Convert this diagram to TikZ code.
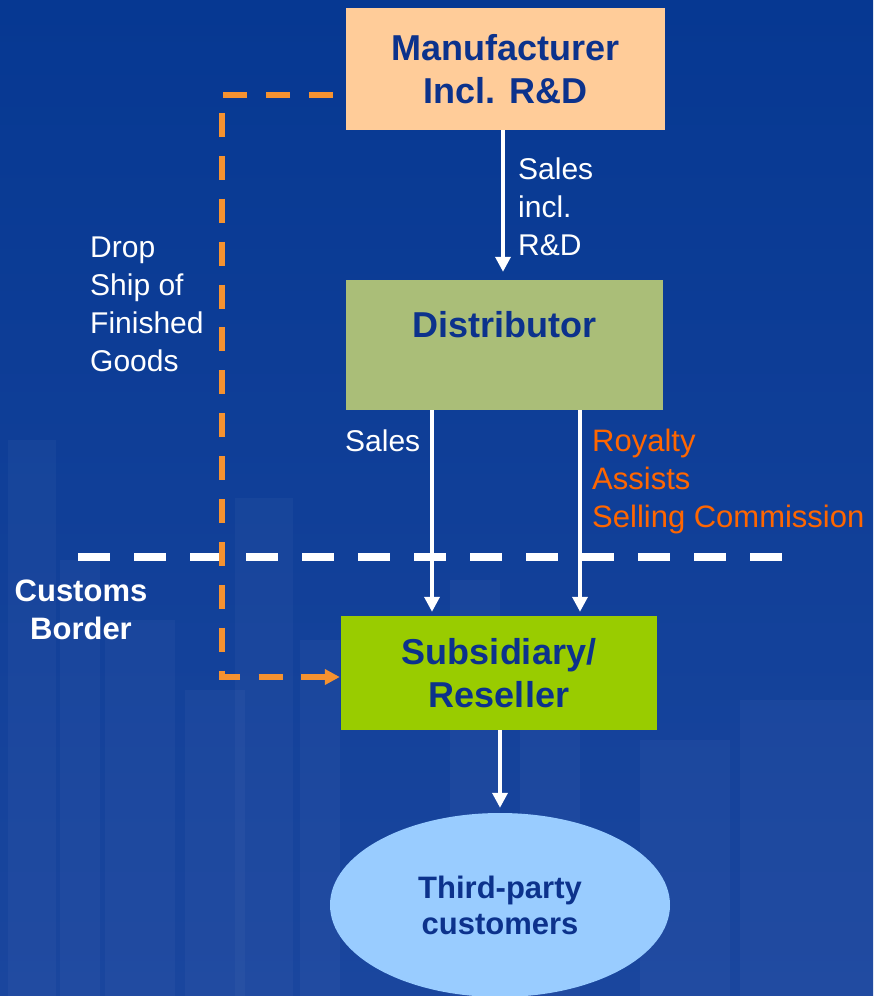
\documentclass[tikz,border=0pt]{standalone}
\usepackage{fontspec}
\setmainfont{Liberation Sans}
\usetikzlibrary{arrows.meta,shapes.geometric}
\definecolor{bgtop}{RGB}{6,56,146}
\definecolor{bgmid}{RGB}{22,76,166}
\definecolor{bgbot}{RGB}{26,70,158}
\definecolor{navy}{RGB}{12,50,140}
\definecolor{mfrfill}{RGB}{255,204,153}
\definecolor{distfill}{RGB}{170,190,120}
\definecolor{subfill}{RGB}{153,204,0}
\definecolor{custfill}{RGB}{153,204,255}
\definecolor{dropor}{RGB}{245,146,48}
\definecolor{royor}{RGB}{255,102,0}

\begin{document}
\begin{tikzpicture}[x=1pt, y=-1pt, >={Triangle[length=15pt,width=15pt]},
	box/.style={draw=none, text=navy, font=\fontsize{36}{43}\selectfont\bfseries, align=center, inner sep=0pt},
	flow/.style={->, white, line width=3.5pt},
	note/.style={white, font=\fontsize{30}{38}\selectfont, align=left, inner sep=0pt}]
	% background with faint skyline
	\shade[top color=bgtop, middle color=bgmid, bottom color=bgbot] (0,0) rectangle (873,996);
	\useasboundingbox (0,0) rectangle (873,996);
	\foreach \bx/\btop/\bw in {8/440/48, 60/560/40, 105/620/70, 185/690/60, 235/498/58, 300/640/40, 450/580/50, 520/720/60, 640/740/90, 740/700/133} {
		\fill[white, opacity=0.03] (\bx,\btop) rectangle ++(\bw,996-\btop);
	}

	% boxes
	\node[box, fill=mfrfill, minimum width=319pt, minimum height=122pt] (mfr) at (505.5,69) {Manufacturer\\Incl. R\&D};
	\node[box, fill=distfill, minimum width=317pt, minimum height=130pt] (dist) at (504.5,345) {};
	\node[box] (distname) at (504.5,325) {Distributor};
	\node[box, fill=subfill, minimum width=316pt, minimum height=114pt] (sub) at (499,673) {Subsidiary/\\Reseller};
	\node[ellipse, fill=custfill, minimum width=340pt, minimum height=184pt, text=navy, font=\fontsize{31}{36}\selectfont\bfseries, align=center, inner sep=0pt] (cust) at (500,905) {Third-party\\customers};

	% customs border
	\coordinate (borderL) at (78,557);
	\coordinate (borderR) at (782,557);
	\draw[white, line width=8pt, dash pattern=on 32pt off 24pt] (borderL) -- (borderR);

	% flows
	\draw[flow, shorten >=8pt] ([xshift=-2.5pt]mfr.south) -- ([xshift=-2.5pt]mfr.south |- dist.north);
	\draw[flow, shorten >=4pt] ([xshift=-72.5pt]dist.south) -- ([xshift=-72.5pt]dist.south |- sub.north);
	\draw[flow, shorten >=4pt] ([xshift=75.5pt]dist.south) -- ([xshift=75.5pt]dist.south |- sub.north);
	\draw[flow, shorten >=5pt] (sub.south -| cust.north) -- (cust.north);

	% drop ship
	\coordinate (droptop) at (222,95);
	\coordinate (dropbot) at (222,677);
	\draw[->, dropor, line width=6pt, dash pattern=on 24pt off 18.9pt, shorten >=1pt] ([xshift=-13pt,yshift=-26pt]mfr.west) -- (droptop) -- (dropbot) -- ([yshift=-4pt]sub.west);

	% labels
	\node[note, anchor=north west] (salesrd) at (518,158) {Sales\\incl.\\R\&D};
	\node[note, anchor=north west] (sales) at (345,430) {Sales};
	\node[note, text=royor, font=\fontsize{31}{38}\selectfont, anchor=north west] (royalty) at (592,429) {Royalty\\Assists\\Selling Commission};
	\node[note, anchor=north west] (dropship) at (90,237) {Drop\\Ship of\\Finished\\Goods};
	\node[note, font=\fontsize{31}{38}\selectfont\bfseries, align=center, anchor=north] (customs) at (81,580) {Customs\\Border};
\end{tikzpicture}
\end{document}
